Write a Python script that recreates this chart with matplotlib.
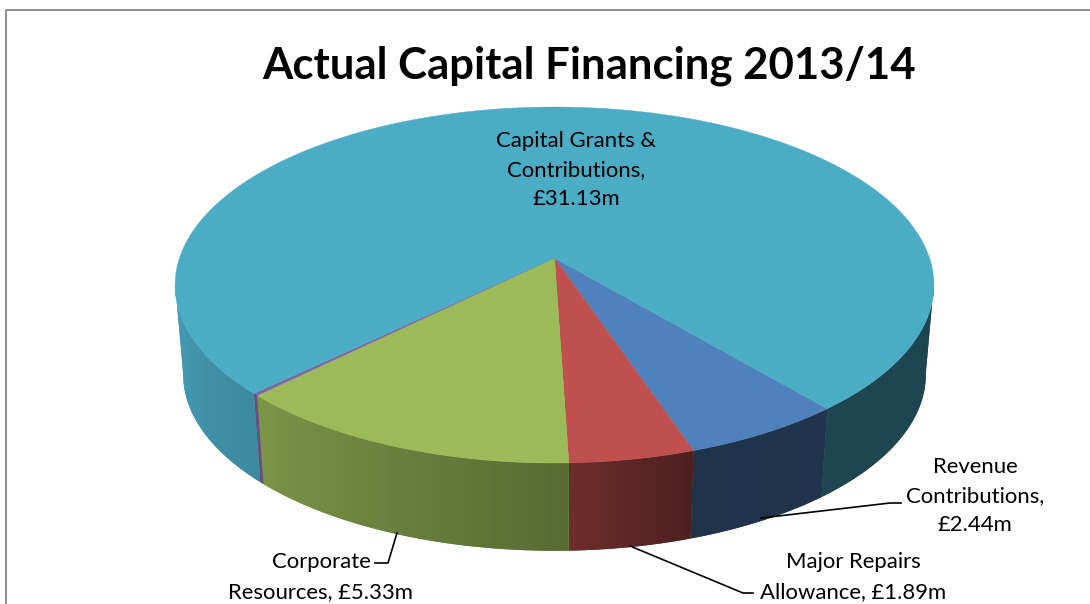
import numpy as np
import matplotlib
matplotlib.use('Agg')
import matplotlib.pyplot as plt
from matplotlib.patches import Polygon

# slices in drawing order, clockwise on screen
names = ['Revenue Contributions', 'Major Repairs Allowance', 'Corporate Resources', 'Other', 'Capital Grants & Contributions']
values = [2.44, 1.89, 5.33, 0.08, 31.13]
colors = ['#4F81BD', '#C0504D', '#9BBB59', '#8064A2', '#4BACC6']
start = 50.0
k = -0.1517

plt.rcParams['font.family'] = ['Lato', 'DejaVu Sans']
fig = plt.figure(figsize=(10.9, 6.04), dpi=100)
ax = fig.add_axes([0, 0, 1, 1])


def top_pt(t):
    x, y = np.cos(t), np.sin(t)
    w = 1 + k * y
    return 554.5 + 375 * x / w, 258 + 173.9 * y / w


def bottom_pt(t):
    x, y = np.cos(t), np.sin(t)
    w = 1 + k * y
    return 554.5 + 367 * x / w, 348 + 172 * y / w


def shade(deg):
    # side wall gets lighter going left
    return np.interp(deg, [0, 50, 72, 88, 135, 175], [0.41, 0.41, 0.40, 0.57, 0.80, 0.94])


fracs = np.array(values) / sum(values) * 360
edges = start + np.concatenate([[0], np.cumsum(fracs)])

# side wall first, the top covers what is behind
for i in range(len(values)):
    deg = np.linspace(edges[i], edges[i + 1], 500)
    # only the front part of the rim, may be two pieces for the big slice
    front = np.sin(np.radians(deg)) >= 0.14
    splits = np.split(deg[front], np.where(np.diff(np.flatnonzero(front)) > 1)[0] + 1)
    base = np.array(matplotlib.colors.to_rgb(colors[i]))
    for part in splits:
        if len(part) < 2:
            continue
        t = np.radians(part)
        tx, ty = top_pt(t)
        bx, by = bottom_pt(t)
        verts = np.c_[np.r_[tx, bx[::-1]], np.r_[ty, by[::-1]]]
        sh = shade(part % 360)
        # plain fill gives the soft edge, gradient goes on top of it
        ax.add_patch(Polygon(verts, closed=True, fc=base * sh.mean(), ec='none', zorder=2))
        x0, x1 = verts[:, 0].min(), verts[:, 0].max()
        xgrid = np.linspace(x0, x1, 200)
        order = np.argsort(tx)
        row = np.interp(xgrid, tx[order], sh[order])
        img = (row[:, None] * base[None, :])[None, :, :]
        im = ax.imshow(img, extent=[x0, x1, verts[:, 1].max(), verts[:, 1].min()], aspect='auto', zorder=2.1)
        clip = Polygon(verts, closed=True, transform=ax.transData)
        im.set_clip_path(clip)

for i in range(len(values)):
    ts = np.radians(np.linspace(edges[i], edges[i + 1], 300))
    xs, ys = top_pt(ts)
    ax.fill(np.r_[554.5, xs], np.r_[258, ys], color=colors[i], lw=0.3, zorder=3)

ax.set_xlim(0, 1090)
ax.set_ylim(604, 0)
ax.axis('off')

# chart frame, cut off at right and bottom
ax.plot([6, 6, 1090], [604, 10, 10], color='#8E8E8E', lw=1.4, zorder=1)

ax.text(589, 65.5, 'Actual Capital Financing 2013/14', fontsize=31.5, fontweight='bold',
        ha='center', va='center', color='black', zorder=5)

ax.text(576, 170, 'Capital Grants &\nContributions,\n£31.13m', fontsize=15.9, ha='center', va='center',
        linespacing=1.58, color='black', zorder=5)
ax.text(975, 496, 'Revenue\nContributions,\n£2.44m', fontsize=15.9, ha='center', va='center',
        linespacing=1.58, color='black', zorder=5)
ax.text(853, 577, 'Major Repairs\nAllowance, £1.89m', fontsize=15.9, ha='center', va='center',
        linespacing=1.58, color='black', zorder=5)
ax.text(321, 577, 'Corporate\nResources, £5.33m', fontsize=15.9, ha='center', va='center',
        linespacing=1.58, color='black', zorder=5)

# leader lines
ax.plot([761, 890, 901], [518, 503, 503], color='black', lw=1.2, zorder=4)
ax.plot([630, 743, 753], [546, 593, 593], color='black', lw=1.2, zorder=4)
ax.plot([397, 388, 375], [533, 563, 563], color='black', lw=1.2, zorder=4)

fig.savefig('out.png', dpi=100)
